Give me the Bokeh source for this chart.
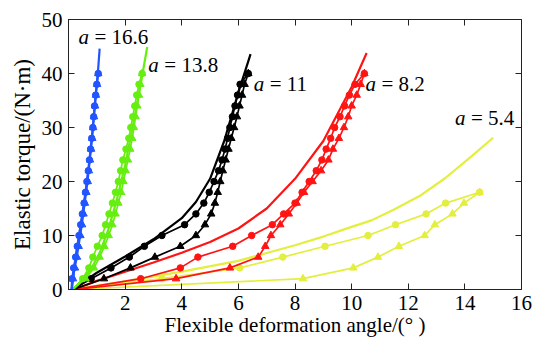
from bokeh.plotting import figure
from bokeh.models import LinearAxis, Range1d, Label, FixedTicker, CustomJSTickFormatter
from bokeh.embed import file_html
from bokeh.resources import INLINE

# ---------------- data ----------------
Y_MARK_40 = [0, 2, 4, 6, 8, 10, 12, 14, 16, 18, 20, 22, 24, 26, 28, 30, 32, 34, 36, 38, 40]
Y_MARK_18 = [0, 2, 4, 6, 8, 10, 12, 14, 16, 18]

blue_circ_x = [0.1, 0.12, 0.18, 0.25, 0.31, 0.37, 0.43, 0.49, 0.55, 0.6, 0.65, 0.7, 0.74, 0.78, 0.82, 0.86, 0.89, 0.92, 0.96, 1.0, 1.05]
blue_tri_x = [0.1, 0.16, 0.23, 0.3, 0.36, 0.42, 0.48, 0.53, 0.58, 0.63, 0.68, 0.72, 0.76, 0.8, 0.84, 0.87, 0.9, 0.94, 0.97, 1.01, 1.05]
blue_model_x = [0.12, 0.25, 0.43, 0.6, 0.74, 0.86, 0.96, 1.05, 1.1]
blue_model_y = [0, 6, 12, 18, 24, 30, 36, 41, 44.6]

green_circ_x = [0.15, 0.5, 0.72, 0.86, 1.02, 1.19, 1.31, 1.43, 1.55, 1.66, 1.76, 1.84, 1.92, 2.03, 2.13, 2.2, 2.27, 2.34, 2.41, 2.49, 2.6]
green_tri_x = [0.15, 0.6, 0.9, 1.1, 1.27, 1.42, 1.55, 1.66, 1.76, 1.86, 1.94, 2.02, 2.1, 2.18, 2.25, 2.31, 2.37, 2.43, 2.49, 2.54, 2.6]
green_model_x = [0.15, 0.5, 0.8, 1.1, 1.4, 1.7, 2.0, 2.3, 2.55, 2.78]
green_model_y = [0, 1.8, 3.8, 6.8, 11, 16.5, 23, 31, 38, 44.9]

black_circ_x = [0.15, 0.8, 1.5, 2.15, 2.68, 3.3, 4.1, 4.5, 4.78, 4.97, 5.14, 5.3, 5.42, 5.53, 5.62, 5.7, 5.79, 5.88, 5.97, 6.06, 6.35]
black_tri_x = [0.15, 1.25, 2.19, 3.05, 3.95, 4.5, 4.82, 5.04, 5.17, 5.27, 5.36, 5.45, 5.55, 5.65, 5.75, 5.85, 5.95, 6.04, 6.13, 6.22, 6.35]
black_model_x = [0.15, 1, 2, 3, 4, 4.5, 5, 5.5, 6, 6.43]
black_model_y = [0, 3.1, 6.1, 9.3, 13.2, 16.2, 20.5, 27.5, 36.5, 43.6]

red_circ_x = [0.2, 2.55, 3.95, 4.57, 5.8, 6.47, 7.2, 7.6, 8.0, 8.25, 8.5, 8.75, 8.95, 9.1, 9.26, 9.4, 9.59, 9.75, 9.92, 10.12, 10.45]
red_tri_x = [0.2, 3.8, 5.7, 6.7, 6.95, 7.15, 7.48, 7.78, 8.06, 8.32, 8.62, 8.92, 9.18, 9.34, 9.55, 9.73, 9.88, 10.0, 10.18, 10.32, 10.45]
red_model_x = [0.2, 1, 2, 3, 4, 5, 6, 7, 8, 9, 10, 10.53]
red_model_y = [0, 1.6, 3.3, 5.0, 6.8, 8.8, 11.3, 15, 20.5, 27.5, 37.5, 43.8]

yellow_circ_x = [0.15, 3.3, 6.05, 7.57, 9.06, 10.58, 11.55, 12.63, 13.32, 14.52]
yellow_tri_x = [0.15, 8.28, 10.06, 10.93, 11.67, 12.58, 12.94, 13.56, 13.97, 14.52]
yellow_model_x = [0.15, 2, 4, 6, 7.1, 8, 9, 10, 10.7, 11.5, 12.4, 13.3, 14.2, 15.0]
yellow_model_y = [0, 1.5, 3.3, 5.3, 6.9, 8.2, 9.8, 11.6, 12.8, 14.8, 17.3, 20.6, 24.5, 28.1]

label_a = ["16.6", "13.8", "11", "8.2", "5.4"]
label_x = [0.35, 2.82, 6.54, 10.49, 13.65]
label_y = [46.8, 41.5, 38.1, 38.0, 31.7]

x_ticks = [2, 4, 6, 8, 10, 12, 14, 16]
y_ticks = [0, 10, 20, 30, 40, 50]

FONT = "'Liberation Serif', 'Times New Roman', serif"
COLORS = {"blue": "#2255ff", "green": "#66ee11", "black": "#000000", "red": "#ff1414", "yellow": "#e4ee3c"}

p = figure(width=536, height=340, x_range=Range1d(0, 16), y_range=Range1d(0, 50),
           output_backend="svg", toolbar_location=None,
           min_border_left=68, min_border_right=15, min_border_top=19, min_border_bottom=51)
p.grid.visible = False
p.outline_line_color = "#222222"
p.background_fill_color = "white"
p.border_fill_color = "white"

def style_axis(ax, show_labels=True):
    ax.major_tick_in = 6
    ax.major_tick_out = 0
    ax.minor_tick_in = 0
    ax.minor_tick_out = 0
    ax.axis_line_color = "#222222"
    ax.major_tick_line_color = "#222222"
    ax.major_label_text_font = FONT
    ax.major_label_text_color = "black"
    ax.major_label_text_font_size = "21px"
    ax.axis_label_text_font = FONT
    ax.axis_label_text_font_style = "normal"
    ax.axis_label_text_color = "black"
    if show_labels:
        ax.major_label_standoff = 6
    else:
        ax.major_label_standoff = 0
        ax.formatter = CustomJSTickFormatter(code="return ''")

p.xaxis.ticker = FixedTicker(ticks=x_ticks)
p.yaxis.ticker = FixedTicker(ticks=y_ticks)
style_axis(p.xaxis[0])
style_axis(p.yaxis[0])
p.xaxis.axis_label = "Flexible deformation angle/(° )"
p.xaxis.axis_label_text_font_size = "21px"
p.xaxis.axis_label_standoff = 0
p.yaxis.axis_label = "Elastic torque/(N·m)"
p.yaxis.axis_label_text_font_size = "23px"
p.yaxis.axis_label_standoff = 4

top = LinearAxis(ticker=FixedTicker(ticks=x_ticks[:-1]))
style_axis(top, False)
p.add_layout(top, "above")
right = LinearAxis(ticker=FixedTicker(ticks=[10, 20, 30, 40]))
style_axis(right, False)
p.add_layout(right, "right")

groups = [
    ("yellow", yellow_model_x, yellow_model_y, yellow_circ_x, yellow_tri_x, Y_MARK_18),
    ("red", red_model_x, red_model_y, red_circ_x, red_tri_x, Y_MARK_40),
    ("black", black_model_x, black_model_y, black_circ_x, black_tri_x, Y_MARK_40),
    ("green", green_model_x, green_model_y, green_circ_x, green_tri_x, Y_MARK_40),
    ("blue", blue_model_x, blue_model_y, blue_circ_x, blue_tri_x, Y_MARK_40),
]

for name, mx, my, cx, tx, ym in groups:
    c = COLORS[name]
    p.line(mx, my, line_color=c, line_width=2.2)
    p.line(cx, ym, line_color=c, line_width=1.7)
    p.scatter(cx[1:], ym[1:], marker="circle", size=6.5, fill_color=c, line_color=c)
    p.line(tx, ym, line_color=c, line_width=1.7)
    p.scatter(tx[1:], ym[1:], marker="triangle", size=7.5, fill_color=c, line_color=c)

for lx, ly, la in zip(label_x, label_y, label_a):
    p.add_layout(Label(x=lx, y=ly, text="a", text_font=FONT, text_font_style="italic",
                       text_font_size="21px", text_baseline="middle", text_color="black"))
    p.add_layout(Label(x=lx, y=ly, x_offset=16, text="= " + la, text_font=FONT,
                       text_font_size="21px", text_baseline="middle", text_color="black"))

open("out.html", "w").write(file_html(p, INLINE))
